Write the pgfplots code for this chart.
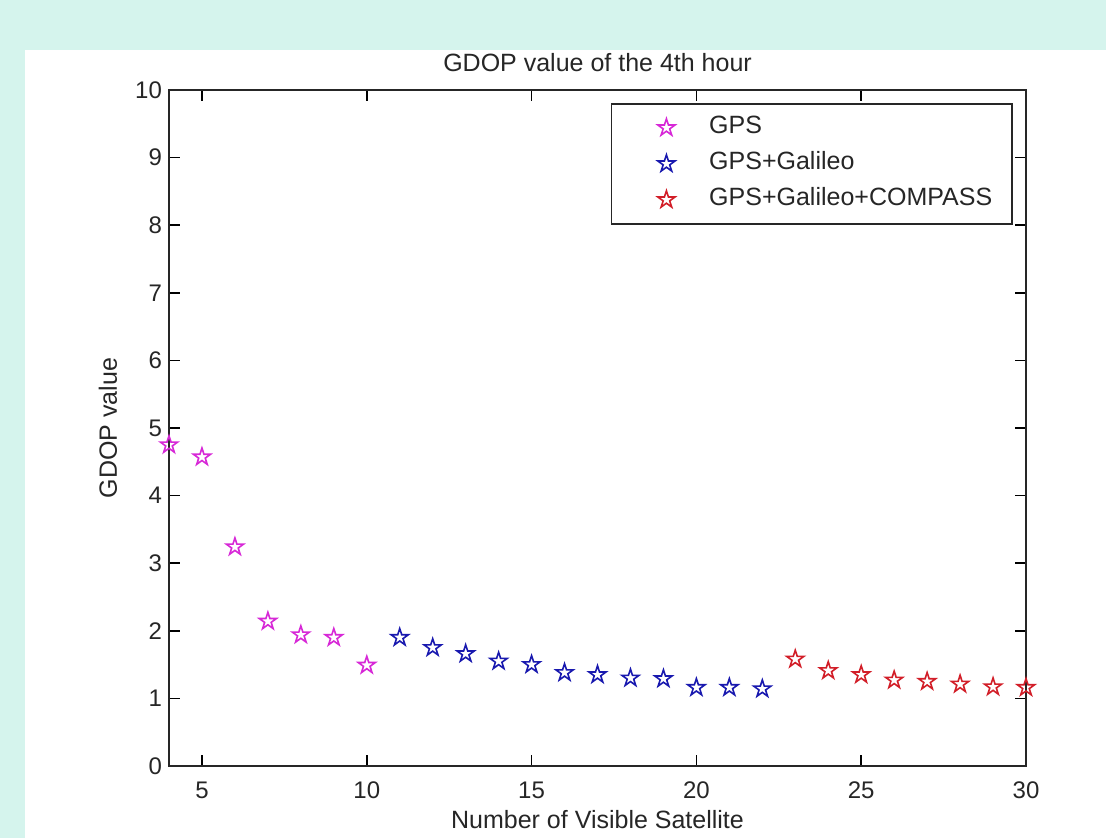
\documentclass[border=0pt]{standalone}
\usepackage{fontspec}
\setmainfont{Liberation Sans}
\usepackage{pgfplots}
\pgfplotsset{compat=1.18}
\definecolor{bgcyan}{RGB}{213,244,237}
\definecolor{mmag}{RGB}{215,40,215}
\definecolor{mblue}{RGB}{25,25,175}
\definecolor{mred}{RGB}{210,30,40}
\pgfdeclareplotmark{pentagram}{%
  \pgfpathmoveto{\pgfpointpolar{90}{\pgfplotmarksize}}%
  \pgfpathlineto{\pgfpointpolar{126}{0.382\pgfplotmarksize}}%
  \pgfpathlineto{\pgfpointpolar{162}{\pgfplotmarksize}}%
  \pgfpathlineto{\pgfpointpolar{198}{0.382\pgfplotmarksize}}%
  \pgfpathlineto{\pgfpointpolar{234}{\pgfplotmarksize}}%
  \pgfpathlineto{\pgfpointpolar{270}{0.382\pgfplotmarksize}}%
  \pgfpathlineto{\pgfpointpolar{306}{\pgfplotmarksize}}%
  \pgfpathlineto{\pgfpointpolar{342}{0.382\pgfplotmarksize}}%
  \pgfpathlineto{\pgfpointpolar{18}{\pgfplotmarksize}}%
  \pgfpathlineto{\pgfpointpolar{54}{0.382\pgfplotmarksize}}%
  \pgfpathclose
  \pgfusepathqstroke
}
\begin{document}
\begin{tikzpicture}[x=1pt,y=1pt]
\fill[bgcyan] (-84.5,-36) rectangle (468.5,383);
\useasboundingbox (-84.5,-36) rectangle (468.5,383);
\fill[white] (-72,-36) rectangle (468.5,358);
\begin{axis}[
  at={(0,0)}, anchor=south west,
  scale only axis, width=428.5pt, height=338pt,
  xmin=4, xmax=30, ymin=0, ymax=10,
  xtick={5,10,...,30}, ytick={0,1,...,10},
  tick align=inside, major tick length=5.5pt,
  tick style={black, line width=0.8pt},
  axis line style={line width=0.9pt, black!85},
  /pgf/number format/assume math mode=true,
  tick label style={font=\fontsize{12}{14}\selectfont, black!85},
  xticklabel style={yshift=-4.5pt},
  clip=false,
  title={GDOP value of the 4th hour},
  title style={at={(axis description cs:0.5,1.0222)}, anchor=center, yshift=0pt, font=\fontsize{12.5}{15}\selectfont, black!85},
  xlabel={Number of Visible Satellite},
  xlabel style={at={(axis description cs:0.5,-0.0799)}, anchor=center, font=\fontsize{12.5}{15}\selectfont, black!85},
  ylabel={GDOP value},
  ylabel style={at={(axis description cs:-0.0712,0.5)}, anchor=center, font=\fontsize{12.5}{15}\selectfont, black!85},
  legend cell align=left,
  legend image code/.code={\path (0pt,0pt) (38pt,0pt); \draw[#1] plot coordinates {(19pt,0pt)};},
  legend style={at={(1,1)}, anchor=north east, xshift=-6.5pt, yshift=-6.5pt,
    draw=black!85, line width=0.8pt, inner xsep=8pt, inner ysep=3pt, row sep=0pt,
    font=\fontsize{12.5}{15}\selectfont,
    nodes={text height=9pt, text depth=3pt, inner ysep=3pt, text=black!85}},
]
\addplot[only marks, mark=pentagram, mark size=4.5pt, color=mmag, line width=0.8pt] coordinates {
 (4,4.75) (5,4.57) (6,3.24) (7,2.14) (8,1.94) (9,1.90) (10,1.49)
};
\addlegendentry{GPS}
\addplot[only marks, mark=pentagram, mark size=4.5pt, color=mblue, line width=0.8pt] coordinates {
 (11,1.90) (12,1.75) (13,1.66) (14,1.55) (15,1.50) (16,1.38) (17,1.35) (18,1.30) (19,1.29) (20,1.16) (21,1.16) (22,1.14)
};
\addlegendentry{GPS+Galileo}
\addplot[only marks, mark=pentagram, mark size=4.5pt, color=mred, line width=0.8pt] coordinates {
 (23,1.58) (24,1.41) (25,1.35) (26,1.27) (27,1.25) (28,1.21) (29,1.17) (30,1.16)
};
\addlegendentry{GPS+Galileo+COMPASS}
\end{axis}
\end{tikzpicture}
\end{document}
